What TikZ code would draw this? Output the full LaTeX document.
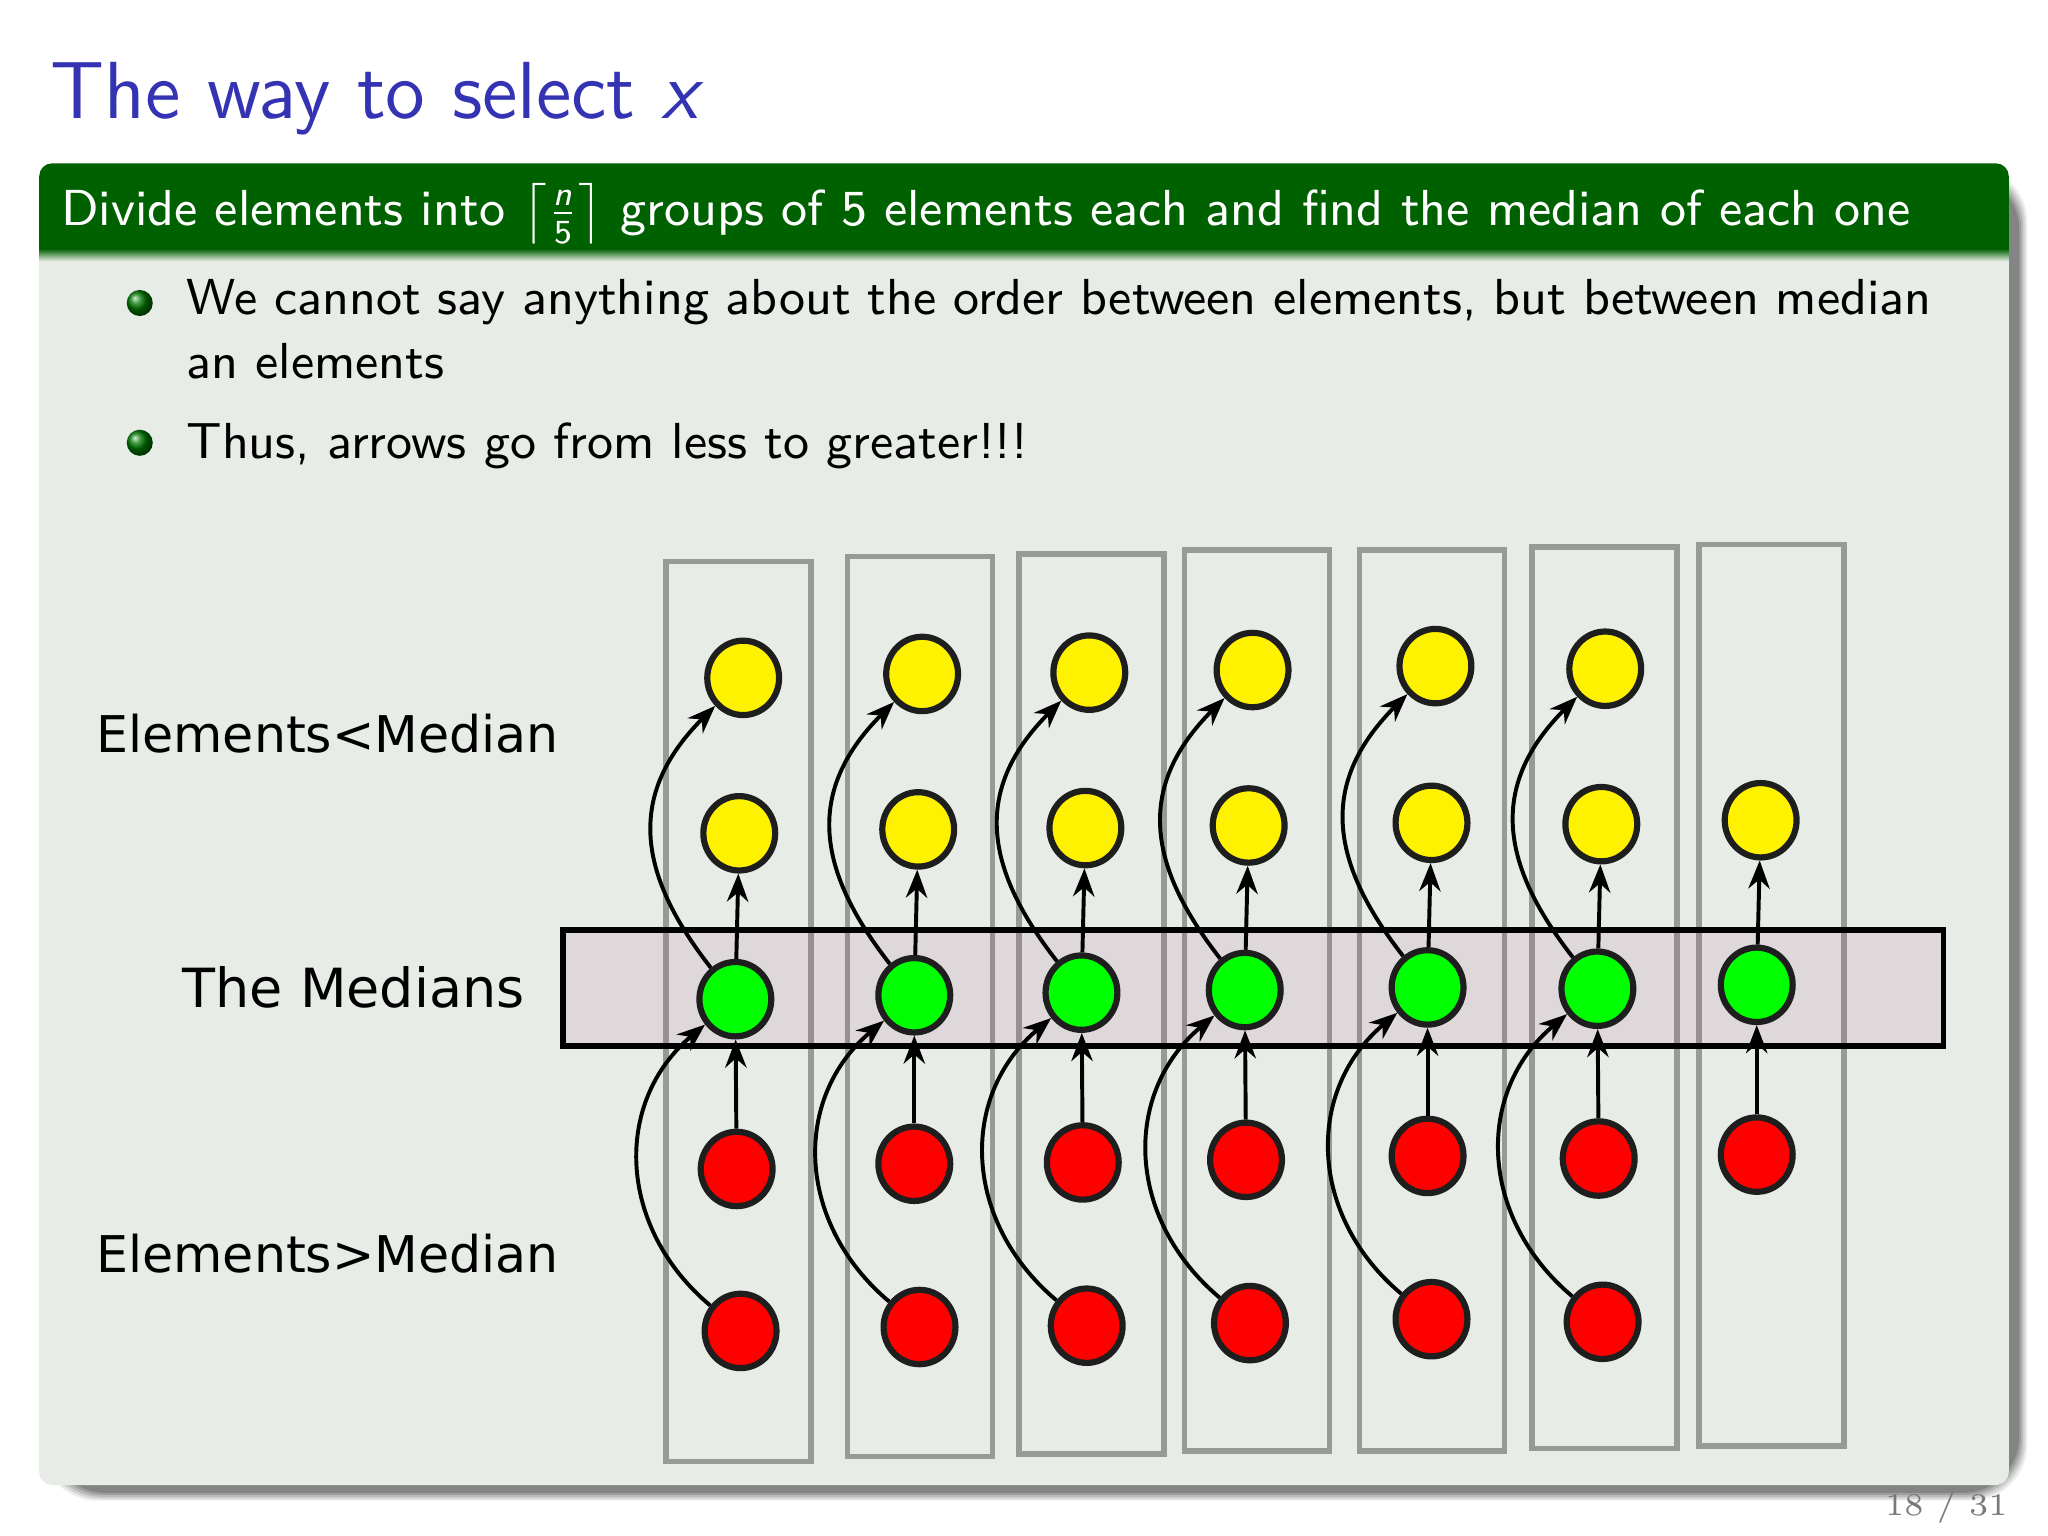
\documentclass[tikz,border=0pt]{standalone}
\usepackage{amsmath}
\usepackage{fontspec}
\newfontfamily\dejavu{DejaVu Sans}
\usetikzlibrary{arrows.meta,shapes.geometric,shadings}
\definecolor{titleblue}{RGB}{51,51,179}
\definecolor{hdrgreen}{RGB}{0,97,0}
\definecolor{bodygray}{RGB}{231,236,231}
\definecolor{colgray}{RGB}{150,155,150}
\definecolor{bandtint}{RGB}{161,46,121}
\definecolor{ringdark}{RGB}{30,30,30}
\definecolor{pagegray}{RGB}{120,120,120}
\definecolor{ballgreen}{RGB}{0,120,0}
\tikzset{
  elem/.style={ellipse, draw=ringdark, line width=1.1pt, minimum width=4.49mm, minimum height=4.65mm, inner sep=0pt},
  yel/.style={elem, fill=yellow},
  grn/.style={elem, fill=green},
  redc/.style={elem, fill=red},
  arr/.style={line width=0.7pt, -{Stealth[length=5pt,width=3.8pt]}},
  colbox/.style={draw=colgray, line width=1pt},
  txt/.style={anchor=base west, inner sep=0pt},
  bodyfont/.style={font=\fontsize{9}{11}\selectfont\sffamily},
  lblfont/.style={font=\fontsize{9}{11}\selectfont\dejavu},
  bullet/.style={circle, inner sep=0pt, minimum size=1.63mm, shading=ball, ball color=ballgreen}
}
\begin{document}
\begin{tikzpicture}[x=0.0816327mm,y=0.0816327mm]
\useasboundingbox (0,0) rectangle (1568,1176);
\fill[white] (0,0) rectangle (1568,1176);
% title
\node[txt, text=titleblue, font=\fontsize{14.4}{17}\selectfont\sffamily] (title) at (38,1085) {The way to select \textit{x}};
% block shadow
\foreach \e/\o in {6/0.08, 4.5/0.1, 3/0.12, 1.5/0.14, 0/0.16} {
  \fill[black, opacity=\o, rounded corners=10] (38-\e,33-\e) rectangle (1546+\e,1043+\e);
}
% block body
\fill[bodygray] (30,985) -- (30,49) arc[start angle=180,end angle=270,radius=10] -- (1528,39) arc[start angle=270,end angle=360,radius=10] -- (1538,985) -- cycle;
% block header
\fill[hdrgreen] (30,985) -- (30,1041) arc[start angle=180,end angle=90,radius=10] -- (1528,1051) arc[start angle=90,end angle=0,radius=10] -- (1538,985) -- cycle;
\shade[top color=hdrgreen, bottom color=bodygray] (30,976) rectangle (1538,985.5);
\node[txt, text=white, font=\fontsize{9}{11}\selectfont\sffamily] (hdr) at (46,1003) {Divide elements into $\left\lceil\frac{\text{\itshape n}}{\text{5}}\right\rceil$ groups of 5 elements each and find the median of each one};
% bullets
\node[bullet] (b1) at (107,944) {};
\node[bullet] (b2) at (107,837) {};
\node[txt, bodyfont] (item1a) at (142,935) {\makebox[109.06mm][s]{We cannot say anything about the order between elements, but between median}};
\node[txt, bodyfont] (item1b) at (142,886) {an elements};
\node[txt, bodyfont] (item2) at (142,825) {Thus, arrows go from less to greater!!!};
% page number
\node[anchor=base east, inner sep=0pt, text=pagegray, font=\fontsize{5.6}{6}\selectfont\rmfamily] (pnum) at (1538,16) {18 / 31};
% row labels
\node[txt, lblfont] (lblless) at (73,600) {Elements<Median};
\node[txt, font=\fontsize{9.6}{11}\selectfont\dejavu] (lblmed) at (139,405) {The Medians};
\node[txt, lblfont] (lblgreat) at (73,202) {Elements>Median};
% group columns
\foreach \xa/\ya/\xb/\yb in {510/57/621/746, 649/61/760/750, 780/63/891/752, 907/65/1018/755, 1041/65/1152/755, 1173/67/1284/757, 1301/69/1412/759} {
  \draw[colbox] (\xa,\ya) rectangle (\xb,\yb);
}
% median band
\draw[black, line width=1pt, fill=bandtint, fill opacity=0.1] (431,375) rectangle (1488,464);
% elements and arrows
\foreach \i/\ax/\ay/\bx/\by/\gx/\gy/\rx/\ry/\sx/\sy in {
  1/569/657/566/538/563/411/564/281/567/157,
  2/706/660/703/541/700/414/700/285/704/160,
  3/834/661/831/542/828/416/829/286/832/161,
  4/959/663/956/544/953/418/954/288/957/163,
  5/1099/666/1096/546/1093/420/1093/291/1096/166,
  6/1229/664/1226/545/1223/419/1224/289/1227/164} {
  \node[yel] (ya\i) at (\ax,\ay) {};
  \node[yel] (yb\i) at (\bx,\by) {};
  \node[grn] (g\i) at (\gx,\gy) {};
  \node[redc] (ra\i) at (\rx,\ry) {};
  \node[redc] (rb\i) at (\sx,\sy) {};
  \draw[arr] (ra\i) -- (g\i);
  \draw[arr] (g\i) -- (yb\i);
  \draw[arr] (g\i) to[out=128,in=225,looseness=1.2] (ya\i);
  \draw[arr] (rb\i) to[out=140,in=220,looseness=1.1] (g\i);
}
\node[yel] (yb7) at (1348,548) {};
\node[grn] (g7) at (1345,422) {};
\node[redc] (ra7) at (1345,292) {};
\draw[arr] (ra7) -- (g7);
\draw[arr] (g7) -- (yb7);
\end{tikzpicture}
\end{document}
